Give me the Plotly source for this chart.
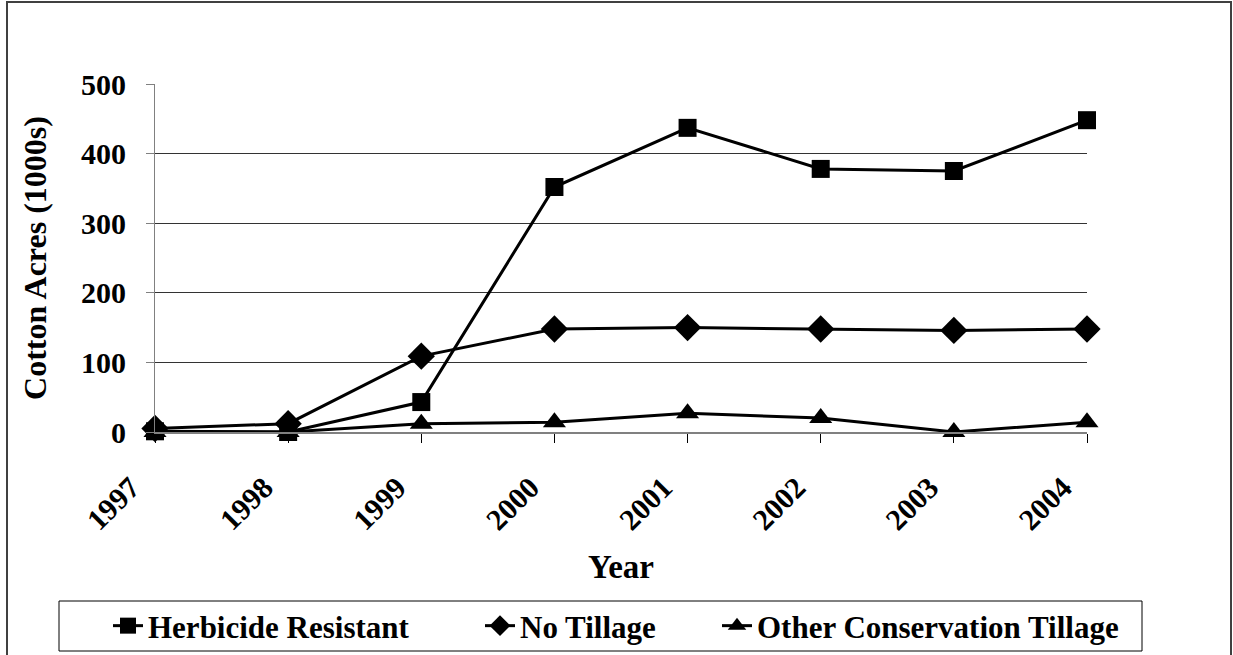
import plotly.graph_objects as go

years = ["1997", "1998", "1999", "2000", "2001", "2002", "2003", "2004"]
herbicide_resistant = [1, 0, 43, 352, 437, 378, 375, 448]
no_tillage = [5, 12, 109, 148, 150, 148, 146, 148]
other_conservation = [0, 0, 12, 14, 27, 20, 0, 14]
y_ticks = [0, 100, 200, 300, 400, 500]

FONT = "Liberation Serif, Times New Roman, serif"
W, H = 1233, 655
L, R, T, B = 155, 146, 84, 223
pw, ph = W - L - R, H - T - B

def px_x(p):
    return (p - L) / pw

def px_y(p):
    return (H - B - p) / ph

series = [
    ("Herbicide Resistant", herbicide_resistant, "square", 18, "legend", 148),
    ("No Tillage", no_tillage, "diamond", 21, "legend2", 520),
    ("Other Conservation Tillage", other_conservation, "triangle-up", 20, "legend3", 757),
]

fig = go.Figure()
legend_layouts = {}
for name, vals, sym, sz, lg, text_x in series:
    fig.add_trace(go.Scatter(
        x=years, y=vals, name=name, mode="lines+markers",
        line=dict(color="black", width=3),
        marker=dict(symbol=sym, size=sz, color="black"),
        cliponaxis=False, legend=lg,
    ))
    legend_layouts[lg] = dict(
        orientation="h", x=px_x(text_x - 40), y=px_y(626),
        xanchor="left", yanchor="middle",
        borderwidth=0, bgcolor="rgba(0,0,0,0)",
        font=dict(family=FONT, size=31, color="black", weight="bold"),
    )

fig.update_layout(
    width=W, height=H,
    margin=dict(l=L, r=R, t=T, b=B, autoexpand=False),
    paper_bgcolor="white", plot_bgcolor="white",
    font=dict(family=FONT, size=30, color="black", weight="bold"),
    showlegend=True,
    xaxis=dict(
        type="category", range=[0, 7], tickangle=-45,
        showgrid=False, showline=True, linecolor="#808080", linewidth=2,
        ticks="outside", ticklen=9, tickcolor="black", tickwidth=1,
        zeroline=False, ticklabelstandoff=15, ticklabelshift=-24,
        title=dict(text="Year", font=dict(family=FONT, size=33, weight="bold"), standoff=20),
        tickfont=dict(family=FONT, size=30, weight="bold"),
    ),
    yaxis=dict(
        range=[0, 500], tickvals=y_ticks, showgrid=True, gridcolor="#333333", gridwidth=1,
        showline=True, linecolor="#808080", linewidth=1,
        ticks="outside", ticklen=8, tickcolor="#808080", tickwidth=1,
        zeroline=False, ticklabelstandoff=14,
        title=dict(text="Cotton Acres (1000s)", font=dict(family=FONT, size=32, weight="bold"), standoff=24),
        tickfont=dict(family=FONT, size=30, weight="bold"),
    ),
    shapes=[
        dict(type="rect", xref="paper", yref="paper",
             x0=px_x(7), x1=px_x(1231), y0=px_y(662), y1=px_y(2),
             line=dict(color="#404040", width=2), fillcolor="rgba(0,0,0,0)", layer="below"),
        dict(type="rect", xref="paper", yref="paper",
             x0=px_x(59), x1=px_x(1142), y0=px_y(651), y1=px_y(601),
             line=dict(color="black", width=1), fillcolor="rgba(0,0,0,0)", layer="below"),
    ],
    **legend_layouts,
)

fig.write_html(
    "out.html",
    config={"displayModeBar": False},
    post_script="document.body.style.margin='0';document.body.style.overflow='hidden';",
)
